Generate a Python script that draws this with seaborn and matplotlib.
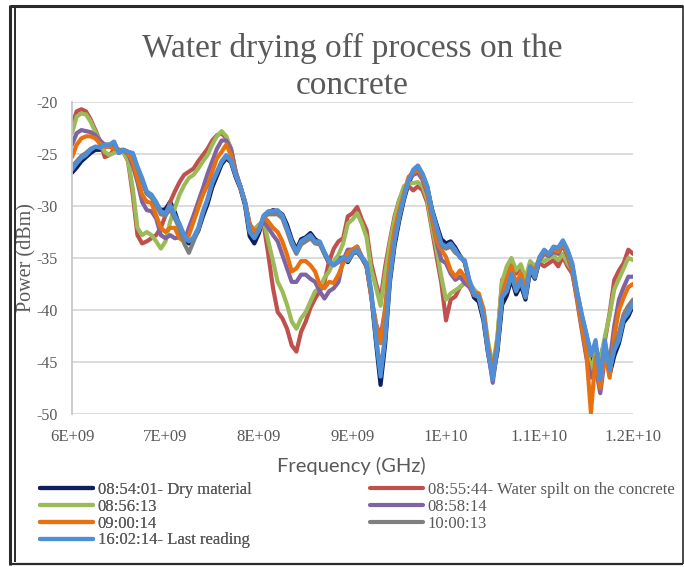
#!/usr/bin/env python3

import numpy as np
import pandas as pd
import matplotlib
matplotlib.use('Agg')
import matplotlib.pyplot as plt
from matplotlib.lines import Line2D
import seaborn as sns

# sampling grid of the sweep, GHz (6.00 .. 12.00 every 0.05)
freq_ghz = np.linspace(6.0, 12.0, 121)

xtick_ghz = [6, 7, 8, 9, 10, 11, 12]
xtick_labels = ['6E+09', '7E+09', '8E+09', '9E+09', '1E+10', '1.1E+10', '1.2E+10']
ytick_vals = [-20, -25, -30, -35, -40, -45, -50]

# power readings in dBm, one row = 6.00, 6.05 ... 6.45 GHz etc.
dry_0854 = [
  -26.8, -26.3, -25.7, -25.3, -24.9, -24.6, -24.6, -24.3, -24.2, -24.0,
  -24.9, -24.6, -24.8, -25.0, -26.4, -27.5, -28.8, -29.1, -29.8, -30.4,
  -30.3, -29.6, -30.6, -31.9, -33.2, -33.6, -33.2, -32.4, -31.0, -29.8,
  -28.2, -27.1, -26.0, -25.4, -25.8, -27.2, -28.3, -29.9, -32.9, -33.6,
  -32.6, -31.0, -30.6, -30.4, -30.5, -30.8, -31.8, -33.2, -34.2, -33.2,
  -33.0, -32.6, -33.2, -33.5, -34.6, -35.5, -35.4, -35.0, -35.0, -35.4,
  -34.6, -34.4, -35.0, -35.8, -38.5, -43.0, -47.2, -43.2, -37.3, -33.8,
  -31.4, -29.4, -27.8, -26.8, -26.3, -27.0, -28.2, -30.3, -31.8, -33.2,
  -33.6, -33.4, -34.0, -34.8, -35.4, -37.4, -38.8, -39.2, -41.0, -44.2,
  -46.5, -44.0, -39.5, -38.6, -37.0, -38.5, -37.6, -39.0, -36.2, -37.0,
  -35.2, -34.4, -34.8, -34.0, -34.2, -33.5, -34.4, -35.8, -38.4, -40.6,
  -42.6, -44.8, -43.4, -46.0, -43.6, -46.2, -44.4, -43.2, -41.2, -40.6,
  -39.6]

wet_0855 = [
  -22.2, -20.9, -20.7, -20.9, -21.7, -22.7, -23.8, -25.3, -25.1, -24.6,
  -24.6, -24.8, -25.7, -28.9, -32.8, -33.6, -33.4, -33.1, -32.8, -32.1,
  -30.9, -29.6, -28.6, -27.7, -27.0, -26.7, -26.4, -25.7, -25.1, -24.5,
  -23.7, -23.2, -23.0, -23.5, -24.5, -26.7, -28.1, -29.6, -31.8, -32.3,
  -31.8, -31.8, -34.7, -37.9, -40.2, -40.8, -41.8, -43.4, -44.0, -42.1,
  -41.1, -39.8, -38.9, -38.2, -37.3, -35.3, -34.1, -33.4, -33.1, -31.0,
  -30.7, -30.1, -31.3, -32.3, -35.5, -37.4, -39.0, -35.8, -33.3, -31.0,
  -29.4, -28.5, -28.1, -28.5, -28.1, -28.5, -29.7, -32.3, -34.9, -37.4,
  -41.0, -39.0, -38.7, -37.8, -37.4, -37.4, -38.1, -38.7, -40.0, -43.5,
  -46.1, -42.8, -37.1, -36.5, -35.4, -36.5, -35.8, -37.3, -35.5, -35.8,
  -35.5, -35.8, -35.5, -35.2, -35.8, -34.9, -35.8, -36.5, -38.7, -41.0,
  -43.5, -46.1, -45.2, -44.5, -42.9, -40.3, -37.1, -36.2, -35.5, -34.2,
  -34.6]

read_0856 = [
  -23.0, -21.4, -21.1, -21.2, -21.9, -22.9, -23.8, -24.8, -25.1, -24.9,
  -24.6, -24.8, -25.6, -28.3, -32.1, -32.8, -32.5, -32.8, -33.4, -34.1,
  -33.4, -31.5, -30.2, -28.9, -28.0, -27.3, -27.0, -26.4, -25.7, -25.1,
  -24.1, -23.3, -22.8, -23.3, -24.5, -26.7, -28.1, -29.6, -31.8, -32.3,
  -31.8, -31.5, -33.4, -35.3, -37.3, -38.2, -39.5, -41.1, -41.8, -40.8,
  -40.2, -39.2, -38.2, -37.9, -36.9, -36.3, -35.3, -34.7, -33.6, -31.7,
  -31.3, -30.7, -31.7, -33.0, -36.1, -37.8, -39.6, -36.5, -33.6, -31.3,
  -29.4, -28.1, -27.8, -27.8, -27.7, -28.1, -29.4, -32.0, -34.2, -36.8,
  -39.0, -38.4, -38.1, -37.8, -37.4, -37.4, -38.0, -38.5, -39.8, -43.0,
  -45.5, -42.5, -37.3, -35.8, -35.0, -36.2, -35.6, -37.0, -35.3, -35.8,
  -35.2, -35.3, -35.0, -34.8, -35.2, -34.6, -35.5, -36.2, -38.5, -41.0,
  -43.0, -46.0, -44.0, -45.0, -42.5, -40.5, -38.0, -37.0, -36.0, -35.0,
  -35.2]

read_0858 = [
  -24.1, -23.0, -22.7, -22.8, -22.9, -23.2, -23.7, -24.1, -24.3, -24.4,
  -24.6, -24.7, -25.0, -26.1, -27.7, -29.6, -30.4, -30.5, -31.2, -32.8,
  -33.1, -32.8, -33.1, -33.0, -33.4, -32.1, -30.9, -29.6, -28.3, -26.9,
  -25.7, -24.5, -23.7, -23.7, -24.5, -26.7, -28.1, -29.6, -31.8, -32.5,
  -32.2, -31.5, -32.1, -32.8, -33.4, -34.7, -36.0, -37.3, -37.3, -36.6,
  -36.6, -37.0, -37.3, -38.2, -38.9, -38.2, -37.9, -37.3, -35.2, -34.2,
  -34.2, -33.9, -34.9, -35.8, -38.7, -41.3, -42.6, -39.9, -35.5, -32.5,
  -30.6, -29.0, -27.5, -27.0, -26.8, -27.5, -28.8, -31.2, -33.5, -35.2,
  -35.5, -36.5, -37.1, -36.8, -37.4, -37.8, -38.6, -38.7, -40.2, -44.0,
  -47.0, -43.5, -38.5, -37.2, -36.0, -37.6, -36.7, -38.2, -36.0, -36.4,
  -35.2, -34.6, -34.8, -34.4, -34.6, -33.8, -34.8, -36.2, -39.0, -41.8,
  -44.5, -46.5, -45.5, -48.0, -44.5, -45.0, -41.5, -39.0, -37.8, -36.8,
  -36.8]

read_0900 = [
  -25.3, -24.1, -23.5, -23.3, -23.3, -23.5, -24.0, -24.3, -24.3, -24.5,
  -24.6, -24.6, -24.9, -25.7, -27.3, -28.9, -29.6, -29.7, -30.9, -32.1,
  -32.5, -32.1, -32.1, -33.1, -33.4, -32.8, -31.5, -30.2, -28.9, -28.0,
  -26.7, -25.4, -24.8, -24.1, -25.1, -27.0, -28.1, -29.6, -31.8, -32.5,
  -32.2, -31.0, -31.5, -32.1, -32.5, -33.4, -34.7, -36.3, -36.0, -35.3,
  -35.3, -35.7, -36.3, -37.6, -37.9, -37.3, -37.4, -36.6, -35.5, -34.5,
  -34.2, -33.9, -34.9, -35.5, -38.7, -41.3, -43.2, -39.9, -35.2, -32.3,
  -30.4, -28.8, -27.2, -26.8, -26.5, -27.2, -28.5, -31.0, -33.3, -34.2,
  -34.9, -36.2, -36.8, -36.2, -36.8, -37.5, -38.4, -38.4, -40.0, -43.5,
  -45.8, -43.0, -38.5, -37.0, -35.8, -37.5, -36.5, -38.0, -35.8, -36.2,
  -35.0, -34.5, -34.6, -34.2, -34.4, -33.6, -34.6, -36.0, -38.7, -41.5,
  -44.0, -49.9, -44.5, -47.5, -44.0, -46.5, -42.5, -40.0, -38.8, -37.8,
  -37.5]

read_1000 = [
  -26.2, -25.7, -25.2, -24.9, -24.5, -24.3, -24.3, -24.1, -24.1, -23.9,
  -24.8, -24.6, -24.8, -25.0, -26.3, -27.5, -28.8, -29.2, -29.9, -30.8,
  -30.9, -30.3, -31.2, -32.2, -33.6, -34.5, -33.4, -32.3, -30.7, -29.4,
  -27.8, -26.8, -25.8, -25.2, -25.7, -27.0, -28.1, -29.7, -32.4, -33.0,
  -32.3, -31.0, -30.8, -30.8, -30.8, -31.2, -32.4, -33.7, -34.6, -33.7,
  -33.4, -33.1, -33.6, -33.7, -34.6, -35.4, -35.7, -35.4, -35.1, -35.3,
  -34.6, -34.3, -35.0, -35.6, -38.3, -42.5, -46.0, -42.4, -36.9, -33.4,
  -31.1, -29.2, -27.6, -26.6, -26.2, -27.0, -28.2, -30.5, -32.2, -33.8,
  -34.1, -33.9, -34.5, -34.8, -35.4, -37.2, -38.5, -38.8, -40.7, -44.0,
  -46.2, -43.4, -38.8, -38.2, -36.6, -38.2, -37.2, -38.8, -35.9, -36.9,
  -35.0, -34.3, -34.7, -34.0, -34.1, -33.4, -34.3, -35.6, -38.2, -40.4,
  -42.3, -44.0, -43.5, -46.0, -43.2, -45.5, -43.5, -42.2, -40.4, -39.6,
  -39.0]

last_1602 = [
  -26.5, -25.9, -25.4, -25.1, -24.6, -24.3, -24.4, -24.1, -24.1, -23.8,
  -24.9, -24.6, -24.8, -24.9, -26.2, -27.3, -28.6, -28.9, -29.6, -30.5,
  -30.7, -29.9, -30.9, -31.7, -32.8, -33.4, -33.0, -32.1, -30.5, -29.3,
  -27.7, -26.7, -25.7, -25.1, -25.6, -27.0, -28.1, -29.6, -32.5, -33.1,
  -32.3, -30.9, -30.5, -30.5, -30.4, -30.9, -32.1, -33.4, -34.4, -33.4,
  -33.1, -32.8, -33.4, -33.4, -34.4, -35.3, -35.7, -35.3, -34.9, -35.2,
  -34.5, -34.2, -34.9, -35.5, -38.1, -42.6, -46.4, -42.6, -36.8, -33.3,
  -31.0, -29.1, -27.5, -26.5, -26.1, -26.9, -28.1, -30.4, -32.0, -33.6,
  -33.9, -33.6, -34.2, -35.0, -35.2, -37.1, -38.4, -38.7, -40.6, -43.9,
  -46.7, -43.5, -38.7, -38.1, -36.5, -38.1, -37.1, -38.7, -35.8, -36.8,
  -34.9, -34.2, -34.6, -33.9, -34.0, -33.3, -34.2, -35.5, -38.1, -40.3,
  -42.2, -44.4, -42.9, -46.7, -42.9, -45.8, -43.9, -42.9, -40.9, -40.3,
  -39.4]

series_names = ['08:54:01- Dry material', '08:55:44- Water spilt on the concrete',
                '08:56:13', '08:58:14', '09:00:14', '10:00:13', '16:02:14- Last reading']
series_values = [dry_0854, wet_0855, read_0856, read_0858, read_0900, read_1000, last_1602]
series_colors = ['#0F1F5C', '#C0504D', '#9BBB59', '#8064A2', '#E8700F', '#7F7F7F', '#4F8FD8']

TXT = '#595959'


def build_frame():
  frames = []
  for name, vals in zip(series_names, series_values):
    frames.append(pd.DataFrame({'freq': freq_ghz, 'power': vals, 'reading': name}))
  return pd.concat(frames, ignore_index=True)


def draw_frame(fig):
  # the dark border round the whole chart object
  W, H = 684.0, 567.0
  kw = dict(transform=fig.transFigure, color='#2b2b2b', solid_capstyle='butt')
  fig.add_artist(Line2D([10 / W, 10 / W], [1 - 5 / H, 1 - 565 / H], lw=2.2, **kw))
  fig.add_artist(Line2D([15 / W, 15 / W], [1 - 8 / H, 1 - 562 / H], lw=1.4, **kw))
  fig.add_artist(Line2D([10 / W, 683 / W], [1 - 6 / H, 1 - 6 / H], lw=2.2, **kw))
  fig.add_artist(Line2D([10 / W, 683 / W], [1 - 564 / H, 1 - 564 / H], lw=1.6, **kw))
  fig.add_artist(Line2D([682.5 / W, 682.5 / W], [1 - 6 / H, 1 - 564 / H], lw=1.2, **kw))


def main():
  df = build_frame()

  sns.set_theme(style='white')
  plt.rcParams['font.family'] = ['Liberation Serif', 'DejaVu Serif']
  plt.rcParams['axes.unicode_minus'] = False

  fig = plt.figure(figsize=(6.84, 5.67), dpi=100)
  ax = fig.add_axes([72 / 684, 1 - 414 / 567, 561 / 684, 312 / 567])

  sns.lineplot(data=df, x='freq', y='power', hue='reading', hue_order=series_names,
               palette=series_colors, linewidth=3, estimator=None, sort=False,
               legend=False, ax=ax)

  ax.set_xlim(6, 12)
  ax.set_ylim(-50, -20)
  ax.set_xticks(xtick_ghz)
  ax.set_xticklabels(xtick_labels)
  ax.set_yticks(ytick_vals)
  ax.set_xlabel('')
  ax.set_ylabel('')
  ax.yaxis.grid(True, color='#D9D9D9', lw=1.3)
  ax.xaxis.grid(False)
  ax.set_axisbelow(True)
  for side in ['top', 'right', 'bottom']:
    ax.spines[side].set_visible(False)
  ax.spines['left'].set_color('#C8C8C8')
  ax.spines['left'].set_linewidth(1.3)
  ax.tick_params(axis='both', length=0, colors=TXT, labelsize=12)
  ax.tick_params(axis='y', labelsize=11.5, pad=10)
  ax.tick_params(axis='x', pad=11)

  fig.text(352 / 684, 1 - 67 / 567, 'Water drying off process on the\nconcrete',
           ha='center', va='center', fontsize=24, color=TXT, linespacing=1.3)
  fig.text(27 / 684, 1 - 258 / 567, 'Power (dBm)', rotation=90, ha='center',
           va='center', fontsize=14.5, color=TXT)
  fig.text(351 / 684, 1 - 466 / 567, 'Frequency (GHz)', ha='center', va='center',
           fontsize=14.5, color=TXT, family=['Lato', 'DejaVu Sans'])

  handles = [Line2D([], [], color=c, lw=3, solid_capstyle='round') for c in series_colors]
  left_idx = [0, 2, 4, 6]
  right_idx = [1, 3, 5]
  leg_kw = dict(loc='upper left', frameon=False, fontsize=12, handlelength=3.2,
                handletextpad=0.25, labelspacing=0.05, borderpad=0, borderaxespad=0,
                labelcolor=TXT)
  leg1 = fig.legend([handles[i] for i in left_idx], [series_names[i] for i in left_idx],
                    bbox_to_anchor=(40 / 684, 1 - 482 / 567), **leg_kw)
  fig.legend([handles[i] for i in right_idx], [series_names[i] for i in right_idx],
             bbox_to_anchor=(370 / 684, 1 - 482 / 567), **leg_kw)
  fig.add_artist(leg1)

  draw_frame(fig)

  fig.savefig('out.png', dpi=100)


if __name__ == "__main__":
  main()
